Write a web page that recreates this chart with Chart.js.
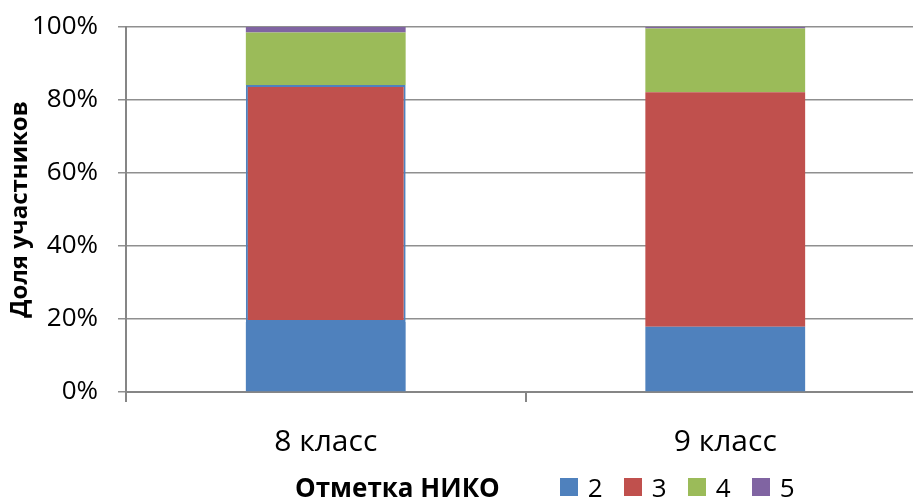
<!DOCTYPE html>
<html>
<head>
<meta charset="utf-8">
<script src="https://cdn.jsdelivr.net/npm/chart.js@4"></script>
<style>
    html, body { margin: 0; padding: 0; background: #fff; overflow: hidden; }
    #wrap { position: absolute; left: 0; top: 0; width: 925px; height: 500px; }
    #legend {
        position: absolute; left: 295px; top: 472px; height: 30px;
        display: flex; align-items: center;
        font-family: 'Open Sans', sans-serif; font-size: 26px; color: #000;
    }
    #legend .ttl { font-weight: bold; margin-right: 60px; }
    #legend .item { display: inline-flex; align-items: center; width: 64px; }
    #legend .box { width: 18px; height: 18px; margin-right: 10px; }
</style>
</head>
<body>
<div id="wrap"><canvas id="chart"></canvas></div>
<div id="legend"></div>
<script>
document.addEventListener('DOMContentLoaded', function() {

    const CATEGORIES = ['8 класс', '9 класс'];
    const GRADES = ['2', '3', '4', '5'];
    const COLORS = ['#4f81bd', '#c0504d', '#9bbb59', '#8064a2'];
    // доля участников, %
    const GRADE_2 = [19.2, 17.9];
    const GRADE_3 = [64.9, 64.2];
    const GRADE_4 = [14.4, 17.5];
    const GRADE_5 = [1.5, 0.4];
    const Y_TICKS = [0, 20, 40, 60, 80, 100];

    const FONT = "'Open Sans', sans-serif";
    const series = [GRADE_2, GRADE_3, GRADE_4, GRADE_5];

    const datasets = series.map((vals, i) => ({
        label: GRADES[i],
        data: vals,
        backgroundColor: COLORS[i],
        // у 8 класса отметка "3" выделена синей рамкой
        borderColor: i === 1 ? ['#4f81bd', 'rgba(0,0,0,0)'] : 'rgba(0,0,0,0)',
        borderWidth: i === 1 ? [2, 0] : 0,
        borderSkipped: false,
        barPercentage: 0.4,
        categoryPercentage: 1.0
    }));

    const chart = new Chart(document.getElementById('chart'), {
        type: 'bar',
        data: { labels: CATEGORIES, datasets },
        options: {
            responsive: true,
            maintainAspectRatio: false,
            animation: false,
            layout: { padding: { top: 27, right: 0, bottom: 0, left: 0 } },
            plugins: {
                legend: { display: false },
                tooltip: { enabled: false }
            },
            scales: {
                x: {
                    stacked: true,
                    grid: { drawOnChartArea: false, drawTicks: true, tickLength: 10, color: '#868686', lineWidth: 2 },
                    border: { color: '#868686', width: 2 },
                    ticks: { color: '#000', padding: 22, font: { family: FONT, size: 30 } },
                    afterFit: s => { s.height = 108; s.paddingLeft = 0; s.paddingRight = 0; }
                },
                y: {
                    stacked: true,
                    min: 0,
                    max: 100,
                    afterBuildTicks: s => { s.ticks = Y_TICKS.map(v => ({ value: v })); },
                    grid: { color: '#8f8f8f', lineWidth: 1.5, tickLength: 8 },
                    border: { color: '#868686', width: 2 },
                    ticks: { color: '#000', padding: 20, font: { family: FONT, size: 26 }, callback: v => v + '%' },
                    title: {
                        display: true,
                        text: 'Доля участников',
                        color: '#000',
                        padding: { top: 6, bottom: 0 },
                        font: { family: FONT, size: 24, weight: 'bold' }
                    },
                    afterFit: s => { s.width = 126; s.paddingTop = 0; s.paddingBottom = 0; }
                }
            }
        }
    });

    // легенда с заголовком слева
    const legend = document.getElementById('legend');
    let html = '<span class="ttl">Отметка НИКО</span>';
    chart.data.datasets.forEach(ds => {
        html += `<span class="item"><span class="box" style="background:${ds.backgroundColor}"></span>${ds.label}</span>`;
    });
    legend.innerHTML = html;
});
</script>
</body>
</html>
